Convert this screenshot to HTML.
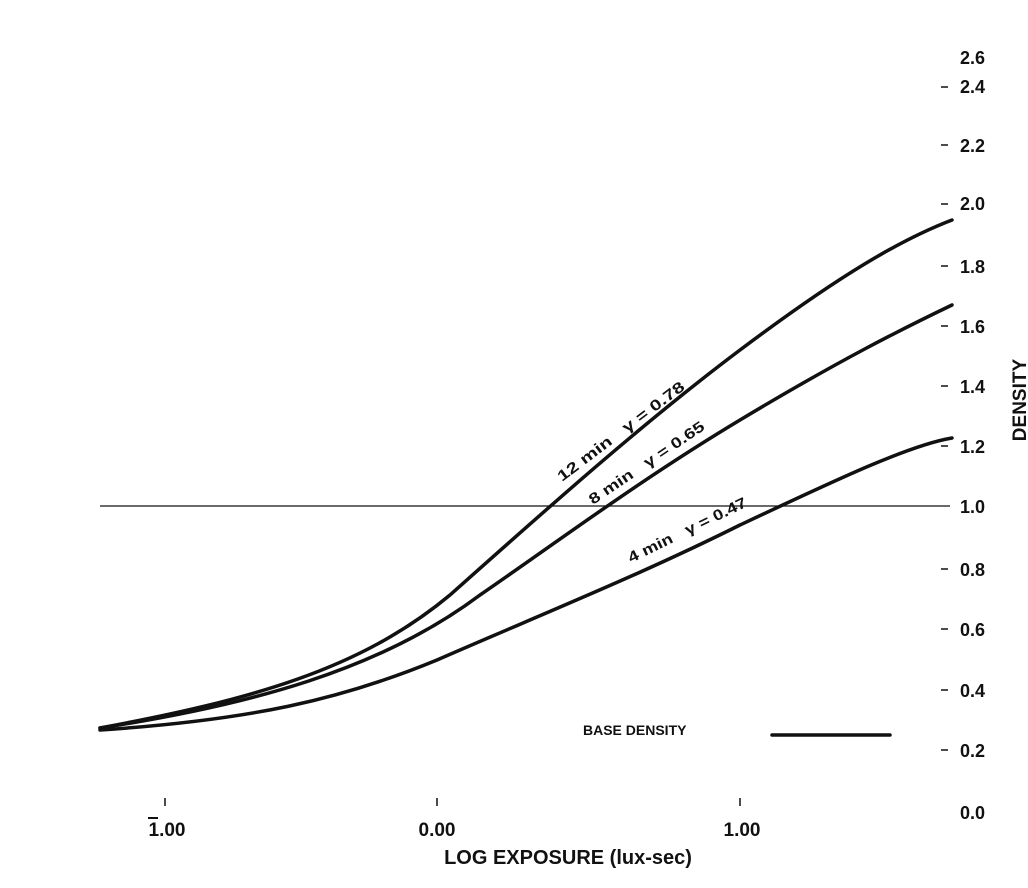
<!DOCTYPE html>
<html><head><style>
body{margin:0;background:#fff}
svg{display:block}
text{font-family:"Liberation Sans",sans-serif;font-weight:bold;fill:#111}
</style></head><body>
<svg width="1028" height="888" viewBox="0 0 1028 888">
<g font-size="18">
<text x="960" y="64">2.6</text>
<text x="960" y="93">2.4</text>
<text x="960" y="152">2.2</text>
<text x="960" y="210">2.0</text>
<text x="960" y="273">1.8</text>
<text x="960" y="333">1.6</text>
<text x="960" y="393">1.4</text>
<text x="960" y="453">1.2</text>
<text x="960" y="513">1.0</text>
<text x="960" y="576">0.8</text>
<text x="960" y="636">0.6</text>
<text x="960" y="697">0.4</text>
<text x="960" y="757">0.2</text>
<text x="960" y="819">0.0</text>
</g>
<g stroke="#111" stroke-width="1.5">
<line x1="941" y1="87" x2="948" y2="87"/><line x1="941" y1="145" x2="948" y2="145"/>
<line x1="941" y1="204" x2="948" y2="204"/><line x1="941" y1="266" x2="948" y2="266"/>
<line x1="941" y1="326" x2="948" y2="326"/><line x1="941" y1="386" x2="948" y2="386"/>
<line x1="941" y1="446" x2="948" y2="446"/><line x1="941" y1="569" x2="948" y2="569"/>
<line x1="941" y1="629" x2="948" y2="629"/><line x1="941" y1="690" x2="948" y2="690"/>
<line x1="941" y1="750" x2="948" y2="750"/>
<line x1="165" y1="798" x2="165" y2="806"/><line x1="437" y1="798" x2="437" y2="806"/><line x1="740" y1="798" x2="740" y2="806"/>
</g>
<text x="1026" y="400" font-size="19" transform="rotate(-90 1026 400)" text-anchor="middle">DENSITY</text>
<g font-size="19" text-anchor="middle">
<text x="167" y="836">1.00</text>
<line x1="148" y1="818" x2="158" y2="818" stroke="#111" stroke-width="2"/>
<text x="437" y="836">0.00</text>
<text x="742" y="836">1.00</text>
<text x="568" y="864" font-size="20">LOG EXPOSURE (lux-sec)</text>
</g>
<line x1="100" y1="506" x2="950" y2="506" stroke="#111" stroke-width="1.3"/>
<g fill="none" stroke="#111" stroke-width="3.5" stroke-linecap="round">
<path d="M100,728 C250,700 360,670 450,595 C540,515 640,425 740,350 C840,275 900,240 952,220"/>
<path d="M100,728 C250,705 380,670 480,595 C560,540 640,480 740,420 C840,360 900,330 952,305"/>
<path d="M100,730 C250,720 340,700 437,660 C540,615 640,575 740,525 C840,478 910,445 952,438"/>
<line x1="772" y1="735" x2="890" y2="735"/>
</g>
<text x="583" y="735" font-size="14">BASE DENSITY</text>
<g font-size="15">
<text transform="translate(562,482) rotate(-37)" textLength="155" lengthAdjust="spacingAndGlyphs">12 min &#160;&#160;γ = 0.78</text>
<text transform="translate(593,505) rotate(-34)" textLength="136" lengthAdjust="spacingAndGlyphs">8 min &#160;&#160;γ = 0.65</text>
<text transform="translate(631,563) rotate(-26)" textLength="130" lengthAdjust="spacingAndGlyphs">4 min &#160;&#160;γ = 0.47</text>
</g>
</svg>
</body></html>
